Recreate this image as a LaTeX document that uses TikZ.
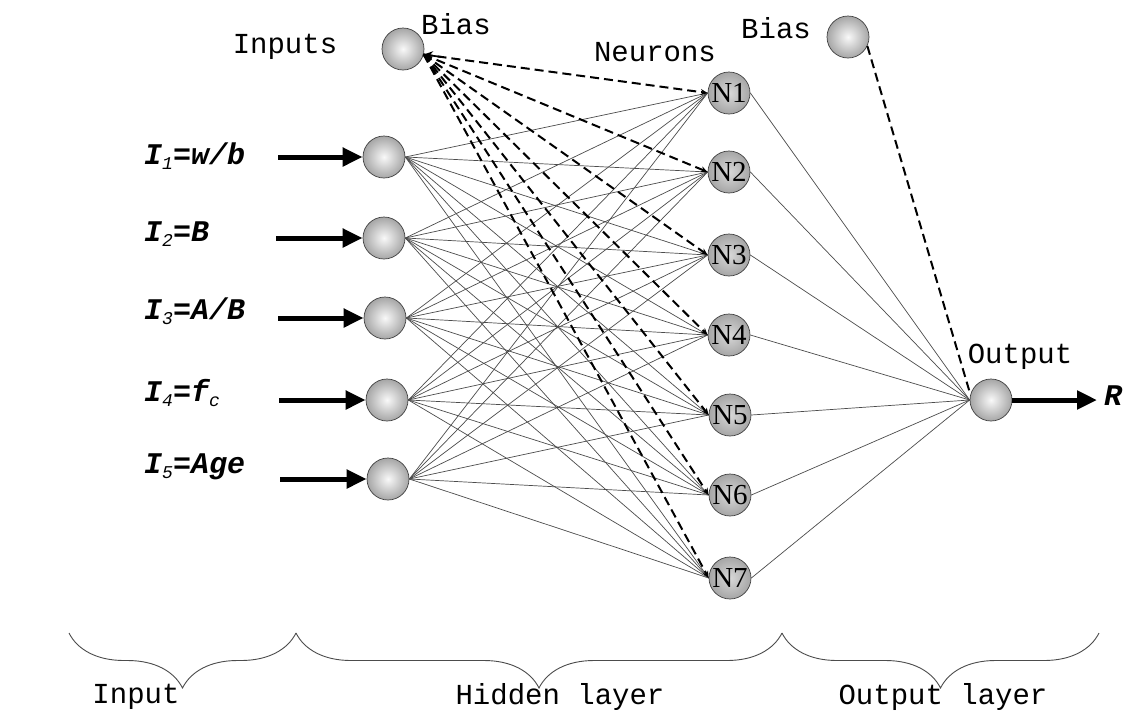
\documentclass[tikz,border=0pt]{standalone}
\usepackage{fontspec}
\setmainfont{Liberation Serif}
\newfontfamily\cour{Liberation Mono}
\usetikzlibrary{arrows.meta,decorations.pathreplacing,shadings,calc}
\begin{document}
\begin{tikzpicture}[x=1pt,y=-1pt,
  ball/.style={circle,minimum size=42pt,inner sep=0pt,draw=black!75,line width=0.7pt,
    shading=radial,inner color=gray!5,outer color=gray!70},
  neuron/.style={ball,inner color=gray!30,outer color=gray!70,
    font=\fontsize{29}{29}\selectfont},
  lbl/.style={font=\cour\fontsize{29}{30}\selectfont,inner sep=0pt},
  inlbl/.style={font=\cour\bfseries\itshape\fontsize{30}{30}\selectfont,inner sep=0pt,anchor=west},
  conn/.style={line width=0.7pt,draw=black!70},
  biasconn/.style={line width=2pt,dash pattern=on 9pt off 5pt,-{Stealth[length=7pt,width=6pt]}},
  bigarrow/.style={line width=5pt,-{Triangle[length=20pt,width=18pt]}},
  brc/.style={decorate,decoration={brace,mirror,amplitude=55pt},line width=0.9pt,draw=black!70}
]
\useasboundingbox (0,0) rectangle (1132,716);
\fill[white] (0,0) rectangle (1132,716);

% input nodes
\node[ball] (i1) at (384,157) {};
\node[ball] (i2) at (384,238) {};
\node[ball] (i3) at (385,318) {};
\node[ball] (i4) at (387,400) {};
\node[ball] (i5) at (388,479) {};
\node[ball] (b1) at (403,49) {};
% hidden neurons
\node[neuron] (n1) at (729,93) {N1};
\node[neuron] (n2) at (729,172) {N2};
\node[neuron] (n3) at (729,255) {N3};
\node[neuron] (n4) at (729,335) {N4};
\node[neuron] (n5) at (730,415) {N5};
\node[neuron] (n6) at (730,495) {N6};
\node[neuron] (n7) at (730,578) {N7};
% output
\node[ball] (b2) at (848,37) {};
\node[ball] (out) at (991,400) {};

% connections input -> hidden
\foreach \i in {1,...,5}{
  \foreach \n in {1,...,7}{
    \draw[conn] (i\i.east) -- (n\n.west);
  }
}
% hidden -> output
\foreach \n in {1,...,7}{
  \draw[conn] (n\n.east) -- (out.west);
}
% bias connections
\foreach \n in {1,...,7}{
  \draw[biasconn] (b1.-15) -- (n\n.west);
}
\draw[line width=1.7pt,-{Stealth[length=9pt,width=9pt]}] ($(b1.-15)!0.06!(n1.west)$) -- (b1.-15);
\draw[biasconn,-] (b2.-25) -- (out.165);

% input arrows
\coordinate (a1) at (278,157);
\coordinate (a2) at (276,238);
\coordinate (a3) at (278,318);
\coordinate (a4) at (279,400);
\coordinate (a5) at (280,479);
\foreach \i in {1,...,5}{
  \draw[bigarrow] (a\i) -- (i\i.west);
}
\coordinate (rend) at (1097,400);
\draw[bigarrow] (out.east) -- (rend);

% labels
\newcommand{\sbs}[1]{\raisebox{-0.3ex}{\fontsize{18}{18}\selectfont\mdseries #1}}
\node[inlbl] (l1) at (144,156) {I\sbs{1}=w/b};
\node[inlbl] (l2) at (144,234) {I\sbs{2}=B};
\node[inlbl] (l3) at (144,311) {I\sbs{3}=A/B};
\node[inlbl] (l4) at (144,393) {I\sbs{4}=f\sbs{c}};
\node[inlbl] (l5) at (144,467) {I\sbs{5}=Age};
\node[inlbl,anchor=center] (lr) at (1113,396) {R};

\node[lbl] (tin) at (285,47) {Inputs};
\node[lbl] (tb1) at (456,24) {Bias};
\node[lbl] (tneu) at (655,52) {Neurons};
\node[lbl] (tb2) at (776,28) {Bias};
\node[lbl] (tout) at (1020,357) {Output};

% braces
\coordinate (c0) at (69,633);
\coordinate (c1) at (296,633);
\coordinate (c2) at (782,633);
\coordinate (c3) at (1099,633);
\draw[brc] (c0) -- (c1);
\draw[brc] (c1) -- (c2);
\draw[brc] (c2) -- (c3);
\node[lbl] (tinput) at (136,697) {Input};
\node[lbl] (thid) at (560,697) {Hidden layer};
\node[lbl] (toutl) at (943,697) {Output layer};
\end{tikzpicture}
\end{document}
